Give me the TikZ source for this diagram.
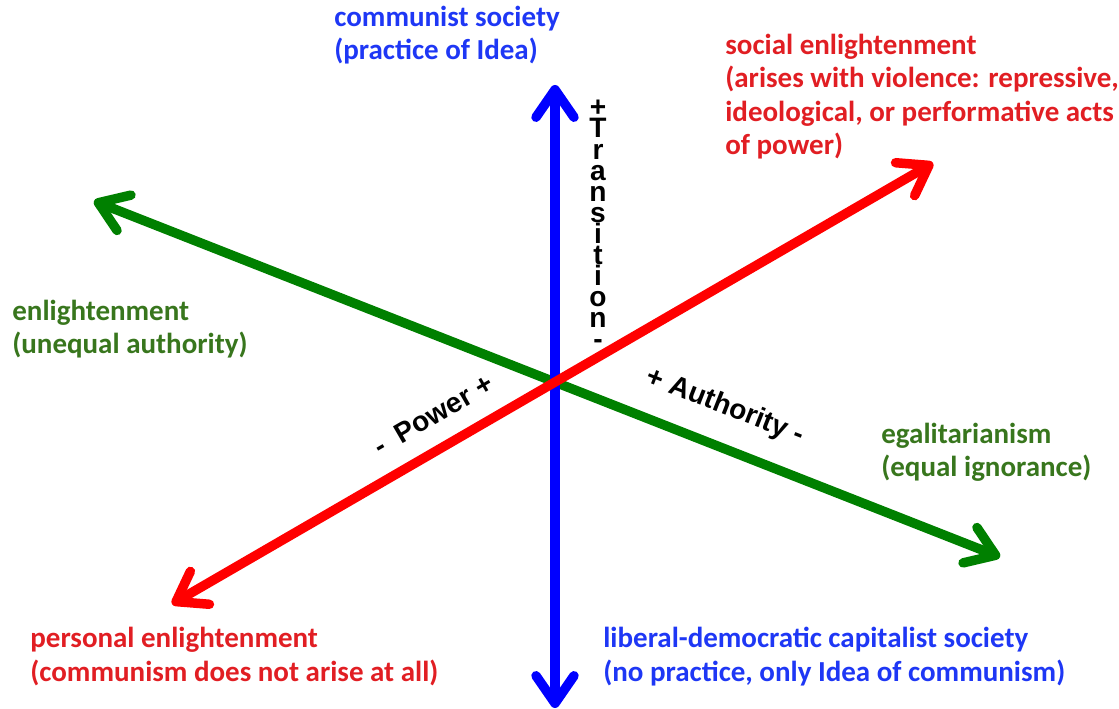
\documentclass[tikz,border=0pt]{standalone}
\usepackage{fontspec}
\setmainfont{Carlito}
\newfontfamily\arialfont{Liberation Sans}
\usetikzlibrary{arrows.meta}

\definecolor{txtred}{RGB}{225,30,35}
\definecolor{txtgreen}{RGB}{56,118,29}
\definecolor{txtblue}{RGB}{30,55,245}
\definecolor{axgreen}{RGB}{0,128,0}

\tikzset{
  axis/.style={line width=5.4pt,
    {Straight Barb[length=0.55cm,width=0.76cm,round]}-{Straight Barb[length=0.55cm,width=0.76cm,round]}},
  % multi-line labels sit on the baseline of their last line
  pole/.style={anchor=base west, align=left, inner sep=0pt,
    font=\bfseries\fontsize{16.5}{19.1}\selectfont},
  axislabel/.style={inner sep=0pt, font=\arialfont\bfseries\fontsize{16}{12}\selectfont},
}

\begin{document}
\begin{tikzpicture}[x=0.02cm, y=-0.02cm]
\useasboundingbox (0,0) rectangle (1119,709);

% ends of the three axes
\coordinate (o) at (555,382);
\coordinate (tt) at (555,85);
\coordinate (tb) at (555,708);
\coordinate (gl) at (94,201);
\coordinate (gr) at (1000,557);
\coordinate (rl) at (172,604);
\coordinate (rr) at (933,163);

\draw[axis, axgreen] (gl) -- (gr);
\draw[axis, blue] (tb) -- (tt);
\draw[axis, red] (rl) -- (rr);

% axis names
\node[axislabel, align=center, anchor=north] (trans) at (598,100)
  {+\\T\\r\\a\\n\\s\\i\\t\\i\\o\\n\\{-}};
\node[axislabel, rotate=30.1] (pow) at (433,415) {-\ \ Power +};
\node[axislabel, rotate=-21.4] (auth) at (725,407) {+ Authority -};

% poles
\node[pole, txtblue] (comm) at (334,60) {communist society\\(practice of Idea)};
\node[pole, txtred] (social) at (725,155)
  {social enlightenment\\(arises with violence: repressive,\\ideological, or performative acts\\of power)};
\node[pole, txtgreen] (enl) at (12,354) {enlightenment\\(unequal authority)};
\node[pole, txtgreen] (egal) at (881,477) {egalitarianism\\(equal ignorance)};
\node[pole, txtred] (pers) at (30,681)
  {personal enlightenment\\(communism does not arise at all)};
\node[pole, txtblue] (lib) at (603,681)
  {liberal-democratic capitalist society\\(no practice, only Idea of communism)};
\end{tikzpicture}
\end{document}
